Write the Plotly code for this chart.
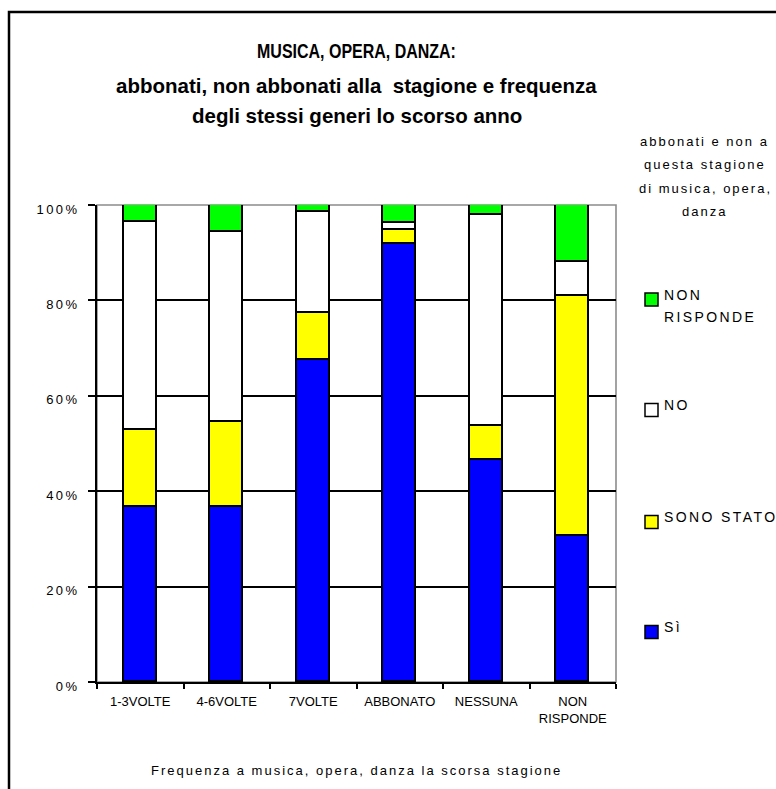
import plotly.graph_objects as go

# --- data -------------------------------------------------------------
categories = ["1-3VOLTE", "4-6VOLTE", "7VOLTE", "ABBONATO", "NESSUNA", "NON<br>RISPONDE"]
series_names = ["Sì", "SONO STATO", "NO", "NON RISPONDE"]
si = [36.6, 36.6, 67.5, 91.8, 46.5, 30.6]
sono_stato = [16.2, 17.9, 9.8, 3.0, 7.2, 50.4]
no = [43.7, 39.9, 21.3, 1.4, 44.2, 7.1]
non_risponde = [3.5, 5.6, 1.4, 3.8, 2.1, 11.9]
y_tickvals = [0, 20, 40, 60, 80, 100]
y_ticktext = ["0%", "20%", "40%", "60%", "80%", "100%"]
legend_title_lines = ["abbonati e non a", "questa stagione", "di musica, opera,", "danza"]
title_lines = ["MUSICA, OPERA, DANZA:",
               "abbonati, non abbonati alla  stagione e frequenza",
               "degli stessi generi lo scorso anno"]
x_title = "Frequenza a musica, opera, danza la scorsa stagione"

colors = ["#0000FF", "#FFFF00", "#FFFFFF", "#00FF00"]
values = [si, sono_stato, no, non_risponde]

FONT = "Liberation Sans, Arial, Helvetica, sans-serif"
W, H = 776, 789
L, R, T, B = 97, 160, 205, 107  # plot area: x 97..616, y 205..682
PW, PH = W - L - R, H - T - B


def px_x(px):
    return (px - L) / PW


def px_y(py):
    return (H - B - py) / PH


fig = go.Figure()
for name, vals, col in zip(series_names, values, colors):
    fig.add_trace(go.Bar(
        x=categories, y=vals, name=name, width=0.385,
        marker=dict(color=col, line=dict(color="black", width=1.8)),
        showlegend=False, hoverinfo="x+y+name",
    ))

shapes = [
    # grey plot-area border (covers the top gridline)
    dict(type="rect", xref="paper", yref="paper", x0=0, x1=1, y0=0, y1=1,
         line=dict(color="#8c8c8c", width=1.6), layer="between"),
    # outer chart frame
    dict(type="rect", xref="paper", yref="paper",
         x0=px_x(9), x1=px_x(800), y0=px_y(820), y1=px_y(12),
         line=dict(color="black", width=2.5), layer="below"),
]
annotations = []

# title lines 2 and 3 (line 1 is the layout title)
for text, cy in zip(title_lines[1:], [85, 116]):
    annotations.append(dict(text=text, xref="paper", yref="paper",
                            x=0.5, y=px_y(cy), xanchor="center", yanchor="middle",
                            showarrow=False,
                            font=dict(family=FONT, size=20.5, color="black", weight="bold")))

# legend: squares + spaced labels, top item is the last series
marker_centers = [299.5, 410, 522, 632]
for (name, col), cy in zip(list(zip(series_names, colors))[::-1], marker_centers):
    shapes.append(dict(type="rect", xref="paper", yref="paper",
                       x0=px_x(645), x1=px_x(658), y0=px_y(cy + 6.5), y1=px_y(cy - 6.5),
                       fillcolor=col, line=dict(color="black", width=1.5)))
    words = name.split(" ") if name == "NON RISPONDE" else [name]
    for i, w in enumerate(words):
        annotations.append(dict(text=w, xref="paper", yref="paper",
                                x=px_x(662), y=px_y(cy - 5 + 22 * i),
                                xanchor="left", yanchor="middle", align="left",
                                showarrow=False,
                                font=dict(family=FONT, size=14, color="black")))

for i, line in enumerate(legend_title_lines):
    annotations.append(dict(text=line, xref="paper", yref="paper",
                            x=px_x(705), y=px_y(141 + 23.6 * i),
                            xanchor="center", yanchor="middle", showarrow=False,
                            font=dict(family=FONT, size=13, color="black")))

annotations.append(dict(text=x_title, xref="paper", yref="paper",
                        x=0.5, y=px_y(770), xanchor="center", yanchor="middle",
                        showarrow=False, font=dict(family=FONT, size=13, color="black")))

fig.update_layout(
    width=W, height=H,
    margin=dict(l=L, r=R, t=T, b=B, autoexpand=False),
    paper_bgcolor="white", plot_bgcolor="white",
    barmode="stack", bargap=0,
    font=dict(family=FONT, color="black"),
    title=dict(text=title_lines[0], x=0.5, xanchor="center", xref="paper",
               y=1 - 51 / H, yanchor="middle", yref="container",
               font=dict(family=FONT, size=20.5, color="black", weight="bold")),
    shapes=shapes, annotations=annotations,
    xaxis=dict(showline=True, linecolor="black", linewidth=2,
               ticks="outside", tickson="boundaries", ticklen=5, tickwidth=2,
               tickcolor="black", tickfont=dict(family=FONT, size=13, color="black"),
               ticklabelstandoff=6, showgrid=False, fixedrange=True),
    yaxis=dict(range=[0, 100], tickvals=y_tickvals, ticktext=y_ticktext,
               showline=True, linecolor="black", linewidth=2,
               ticks="outside", ticklen=7, tickwidth=2, tickcolor="black",
               showgrid=True, gridcolor="black", gridwidth=1.6, zeroline=False,
               tickfont=dict(family=FONT, size=13, color="black"),
               ticklabelstandoff=6, ticklabelshift=4, fixedrange=True),
)

# letter spacing: wide for axis numbers, legend and axis title;
# the capitalised first title line is set condensed
spacing_js = """
var gd = document.getElementById('{plot_id}');
function spaceOut() {
  gd.querySelectorAll('.ytick text').forEach(function (t) {
    t.style.letterSpacing = '2.4px';
  });
  gd.querySelectorAll('.annotation-text').forEach(function (t) {
    var fs = parseFloat(t.style.fontSize);
    if (fs >= 20) return;
    t.style.letterSpacing = fs >= 14 ? '2.4px' : '2.0px';
  });
  gd.querySelectorAll('.gtitle').forEach(function (t) {
    t.style.transformBox = 'fill-box';
    t.style.transformOrigin = 'center';
    t.style.transform = 'scaleX(0.78)';
  });
}
spaceOut();
gd.on('plotly_afterplot', spaceOut);
"""

fig.write_html("out.html", post_script=spacing_js)
